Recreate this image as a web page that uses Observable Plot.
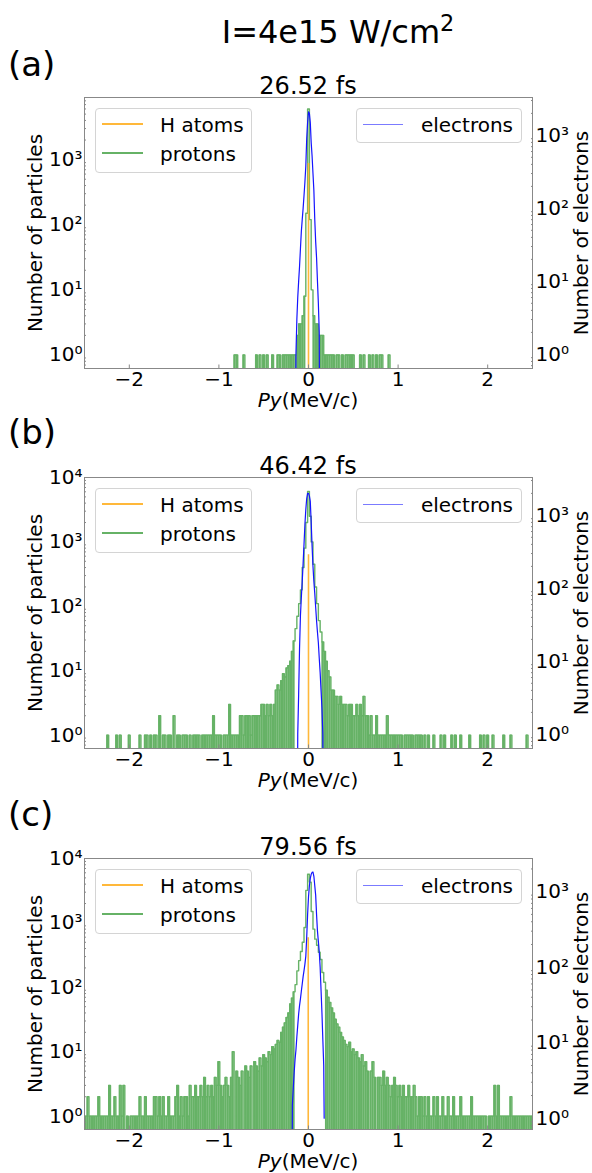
<!DOCTYPE html>
<html>
<head>
<meta charset="utf-8">
<script src="https://cdn.jsdelivr.net/npm/d3@7"></script>
<script src="https://cdn.jsdelivr.net/npm/@observablehq/plot@0.6"></script>
<style>
  html, body { margin: 0; padding: 0; background: #fff; }
  #fig { position: relative; width: 592px; height: 1173px; overflow: hidden; font-family: "DejaVu Sans", sans-serif; color: #000; }
  .t { position: absolute; white-space: nowrap; line-height: normal; }
  .svgwrap { position: absolute; left: 0; }
  .svgwrap svg { position: absolute; left: 0; top: 0; }
  .legend { position: absolute; box-sizing: border-box; border: 1px solid #d4d4d4; border-radius: 4px; background: rgba(255,255,255,0.8); }
  .lline { position: absolute; }
</style>
</head>
<body>
<div id="fig"></div>
<script>
// ---------------- data ----------------
const suptitleText = "I=4e15 W/cm";
const suptitleSup = "2";
const panelTags = ["(a)", "(b)", "(c)"];
const panelTimes = ["26.52 fs", "46.42 fs", "79.56 fs"];
const seriesNames = ["H atoms", "protons", "electrons"];
const xTicks = [-2, -1, 0, 1, 2];
const yLeftTicks = [1, 10, 100, 1000, 10000];
const yRightTicks = [1, 10, 100, 1000];
const xLabelItalic = "Py";
const xLabelRest = "(MeV/c)";
const yLeftLabel = "Number of particles";
const yRightLabel = "Number of electrons";

// proton histograms: bin width and first bin centre, counts per bin
const binWidth = 0.02;
const protonsStartA = -0.82;
const protonsA = [
  1,1,0,0,0,1,0,0,0,0,0,0,1,0,1,0,1,0,1,0,0,
  1,0,0,1,1,0,1,1,1,1,1,1,1,1,2,3,3,4,8,150,
  6000,
  120,10,4,3,3,2,2,2,1,1,1,1,1,1,0,1,1,0,1,0,
  1,1,1,1,1,0,0,0,1,0,1,0,0,1,0,1,0,1,0,1,1,0,0,0,1
];
const protonsStartB = -2.24;
const protonsB = [
  1,0,0,0,0,1,0,1,0,0,0,0,1,0,0,0,0,0,1,0,
  0,1,1,0,1,0,1,1,0,2,0,1,1,0,1,1,0,2,0,1,
  1,0,1,1,1,0,1,0,1,1,1,1,0,1,1,1,1,1,1,2,
  1,1,1,1,0,1,1,1,3,1,1,1,1,1,2,2,1,2,2,2,
  1,2,2,2,2,2,3,3,2,3,2,3,2,3,5,6,5,7,9,8,
  11,12,14,20,29,45,70,110,180,400,800,2000,6100,2500,1000,450,200,110,60,40,
  28,20,14,10,8,5,5,4,4,3,4,3,3,3,2,3,3,2,2,3,
  2,3,2,4,2,2,1,2,1,1,2,1,1,1,1,1,2,1,1,1,
  1,1,1,1,1,0,1,1,1,1,1,0,1,1,1,1,0,1,0,1,
  0,0,1,0,0,0,1,0,1,0,0,0,1,0,1,0,0,1,0,0,
  0,0,1,0,0,0,0,0,1,0,1,0,1,0,0,1,0,0,0,0,
  0,1,0,0,0,1,0,0,0,0,0,0,0,0,1
];
const protonsStartC = -2.50;
const protonsC = [
  1,1,2,1,1,1,1,1,2,1,1,1,1,1,3,1,1,2,1,1,
  3,1,3,0,1,0,1,1,1,1,1,2,1,1,2,1,1,1,1,2,
  2,1,2,1,2,1,1,2,1,1,1,2,3,1,2,1,2,2,1,3,
  2,2,3,2,2,3,2,4,2,3,2,3,2,4,3,7,3,2,3,4,
  3,2,4,10,0,5,4,3,5,0,6,5,4,6,0,7,6,5,8,6,
  9,8,7,10,9,12,11,13,15,14,20,24,28,34,40,55,68,85,110,180,
  260,360,500,850,3200,5700,4300,1500,800,560,450,350,270,170,120,90,70,58,48,40,
  32,27,24,20,17,15,13,12,14,10,11,9,10,8,7,9,6,7,5,0,
  5,7,4,0,4,4,3,5,3,4,3,2,3,4,3,2,3,2,3,2,
  2,3,2,2,3,2,1,2,2,1,2,1,2,1,1,2,1,2,1,1,
  2,1,1,2,1,1,2,1,1,1,2,1,1,1,1,1,2,1,1,1,
  1,1,1,1,1,0,1,1,1,3,1,3,1,1,1,1,1,1,2,1,
  1,1,1,1,1,1,1,1,1,1,1
];

// H atoms: single narrow peak
const hAtomsPy = [0, 0, -0.003];
const hAtomsN = [870, 630, 590];

// electrons (right axis)
const electronsPyA = [-0.15,-0.14,-0.13,-0.12,-0.11,-0.10,-0.09,-0.08,-0.07,-0.06,-0.05,-0.04,-0.03,-0.02,-0.01,0.00,0.01,0.02,0.03,0.04,0.05,0.06,0.07,0.08,0.09,0.10,0.11,0.12,0.13];
const electronsNA  = [0,1,3,6,10,16,28,48,70,100,150,230,380,900,1500,2100,2000,1500,800,520,300,176,70,35,21,10,5,2,0];
const electronsPyB = [-0.13,-0.12,-0.11,-0.10,-0.09,-0.08,-0.07,-0.06,-0.05,-0.04,-0.03,-0.02,-0.01,0.00,0.01,0.02,0.03,0.04,0.05,0.06,0.07,0.08,0.09,0.10,0.11,0.12,0.13,0.14,0.15,0.16,0.17];
const electronsNB  = [0,1,3.5,15,42,75,124,220,400,750,1200,1700,2000,2000,1850,1550,800,380,200,124,85,55,36,25,18,11,7,4,2.3,1,0];
const electronsPyC = [-0.19,-0.18,-0.17,-0.16,-0.15,-0.14,-0.13,-0.12,-0.11,-0.10,-0.09,-0.08,-0.07,-0.06,-0.05,-0.04,-0.03,-0.02,-0.01,0.00,0.01,0.02,0.03,0.04,0.05,0.06,0.07,0.08,0.09,0.10,0.11,0.12,0.13,0.14,0.15,0.16,0.17,0.175];
const electronsNC  = [0,1.5,2.5,4,6,8,12,17,24,31,38,48,60,75,90,110,140,250,500,850,1200,1500,1700,1800,1820,1600,1200,900,500,300,220,160,100,50,25,11,5,1];

// ---------------- styling / layout ----------------
const GREEN = "#66b266", ORANGE = "#ffb83a", BLUE = "#1414ff", LBLUE = "#7b7bff", FRAME = "#888";
const W = 592, FH = 271, MT = 20, MB = 50, ML = 84, MR = 60;
const panels = [
  {frameTop: 97,  tagBase: 76,  protons: [protonsStartA, protonsA], ePy: electronsPyA, eN: electronsNA, yL: [0.62, 9000],  yR: [0.64, 3300], fillMax: 8},
  {frameTop: 477, tagBase: 444, protons: [protonsStartB, protonsB], ePy: electronsPyB, eN: electronsNB, yL: [0.62, 10000], yR: [0.64, 3300], fillMax: 30},
  {frameTop: 858, tagBase: 826, protons: [protonsStartC, protonsC], ePy: electronsPyC, eN: electronsNC, yL: [0.62, 10000], yR: [0.71, 2750], fillMax: 100}
];

const FIG = document.getElementById("fig");
function addText(html, {x, baseline, size, anchor = "start"}) {
  const d = document.createElement("div");
  d.className = "t";
  d.innerHTML = html;
  d.style.fontSize = size + "px";
  d.style.left = x + "px";
  d.style.top = (baseline - 0.928 * size) + "px";
  if (anchor === "middle") d.style.transform = "translateX(-50%)";
  if (anchor === "end") d.style.transform = "translateX(-100%)";
  FIG.appendChild(d);
  return d;
}
function addVText(text, {cx, cy, size}) {
  const d = document.createElement("div");
  d.className = "t";
  d.textContent = text;
  d.style.fontSize = size + "px";
  d.style.left = cx + "px";
  d.style.top = cy + "px";
  d.style.transform = "translate(-50%,-50%) rotate(-90deg)";
  FIG.appendChild(d);
}
function addBox(x, y, w, h) {
  const d = document.createElement("div");
  d.className = "legend";
  Object.assign(d.style, {left: x + "px", top: y + "px", width: w + "px", height: h + "px"});
  FIG.appendChild(d);
}
function addLine(x, y, w, color, lw) {
  const d = document.createElement("div");
  d.className = "lline";
  Object.assign(d.style, {left: x + "px", top: (y - lw / 2) + "px", width: w + "px", height: lw + "px", background: color});
  FIG.appendChild(d);
}

const SUP = {"-1": "⁻¹", "0": "⁰", "1": "¹", "2": "²", "3": "³", "4": "⁴"};
const fmtPow = d => "10" + SUP[String(Math.round(Math.log10(d)))];
function minorTicks([lo, hi]) {
  const out = [];
  for (let e = -1; e <= 4; e++) for (let m = 2; m <= 9; m++) {
    const v = m * Math.pow(10, e);
    if (v >= lo && v <= hi) out.push(v);
  }
  return out;
}
function protonTable([start, counts]) {
  const rows = [{py: start - binWidth, n: 0}];
  counts.forEach((n, i) => rows.push({py: start + i * binWidth, n}));
  rows.push({py: start + counts.length * binWidth, n: 0});
  return rows;
}

// suptitle
addText(`${suptitleText}<span style="font-size:0.7em;position:relative;top:-0.55em">${suptitleSup}</span>`, {x: 338, baseline: 43, size: 32, anchor: "middle"});

panels.forEach((p, i) => {
  const top = p.frameTop;
  const wrap = document.createElement("div");
  wrap.className = "svgwrap";
  wrap.style.top = (top - MT) + "px";
  wrap.style.width = W + "px";
  wrap.style.height = (FH + MT + MB) + "px";
  FIG.appendChild(wrap);

  const common = {
    width: W, height: FH + MT + MB,
    marginLeft: ML, marginRight: MR, marginTop: MT, marginBottom: MB,
    style: {background: "transparent", fontFamily: '"DejaVu Sans", sans-serif', fontSize: "20px", overflow: "visible", color: "#000"},
    x: {domain: [-2.5, 2.5]}
  };

  const rows = protonTable(p.protons);
  const bottomL = p.yL[0];
  const left = Plot.plot({
    ...common,
    y: {type: "log", domain: p.yL},
    marks: [
      Plot.rect(rows.filter(d => d.n > 0 && d.n <= p.fillMax), {
        x1: d => d.py - binWidth * 0.55, x2: d => d.py + binWidth * 0.55,
        y1: () => bottomL, y2: "n", fill: GREEN, clip: true
      }),
      Plot.line(rows, {x: "py", y: d => (d.n > 0 ? d.n : 1e-3), curve: "step", stroke: GREEN, strokeWidth: 1.4, clip: true}),
      Plot.ruleX([{py: hAtomsPy[i], n: hAtomsN[i]}], {x: "py", y1: () => 1e-3, y2: "n", stroke: ORANGE, strokeWidth: 1.6, clip: true}),
      Plot.frame({stroke: FRAME, strokeWidth: 1}),
      Plot.axisX(xTicks, {anchor: "bottom", tickSize: 0, tickPadding: 3, fontSize: 20, label: null, tickFormat: d3.format("d")}),
      Plot.axisX(xTicks, {anchor: "bottom", tickSize: -3.5, tickFormat: () => "", label: null, stroke: FRAME}),
      Plot.axisY(yLeftTicks.filter(t => t >= p.yL[0] && t <= p.yL[1]), {anchor: "left", tickSize: 0, tickPadding: 2, fontSize: 20, label: null, tickFormat: fmtPow}),
      Plot.axisY(minorTicks(p.yL), {anchor: "left", tickSize: -2, tickFormat: () => "", label: null, stroke: FRAME})
    ]
  });
  wrap.appendChild(left);

  const elec = p.ePy.map((py, j) => ({py, n: p.eN[j]}));
  const right = Plot.plot({
    ...common,
    x: {domain: [-2.5, 2.5], axis: null},
    y: {type: "log", domain: p.yR},
    marks: [
      Plot.line(elec, {x: "py", y: d => (d.n > 0 ? d.n : 1e-3), stroke: BLUE, strokeWidth: 1.2, clip: true}),
      Plot.axisY(yRightTicks.filter(t => t >= p.yR[0] && t <= p.yR[1]), {anchor: "right", tickSize: 0, tickPadding: 3, fontSize: 20, label: null, tickFormat: fmtPow}),
      Plot.axisY(minorTicks(p.yR), {anchor: "right", tickSize: -2, tickFormat: () => "", label: null, stroke: FRAME})
    ]
  });
  wrap.appendChild(right);

  // texts
  addText(panelTags[i], {x: 8, baseline: p.tagBase, size: 34});
  addText(panelTimes[i], {x: 308, baseline: top - 3, size: 24, anchor: "middle"});
  addText(`<i>${xLabelItalic}</i>${xLabelRest}`, {x: 308, baseline: top + FH + 39, size: 20, anchor: "middle"});
  addVText(yLeftLabel, {cx: 35, cy: top + FH / 2, size: 20});
  addVText(yRightLabel, {cx: 581, cy: top + FH / 2, size: 20});

  // legends
  const lt = top + 11;
  addBox(95, lt, 157, 65);
  addLine(102, top + 27, 41, ORANGE, 1.5);
  addLine(102, top + 56, 41, GREEN, 2);
  addText(seriesNames[0], {x: 160, baseline: top + 27 + 7.5, size: 20});
  addText(seriesNames[1], {x: 160, baseline: top + 56 + 7.5, size: 20});
  addBox(356, lt, 166, 35);
  addLine(363, top + 27, 40, LBLUE, 1);
  addText(seriesNames[2], {x: 513, baseline: top + 27 + 7.5, size: 20, anchor: "end"});
});
</script>
</body>
</html>
